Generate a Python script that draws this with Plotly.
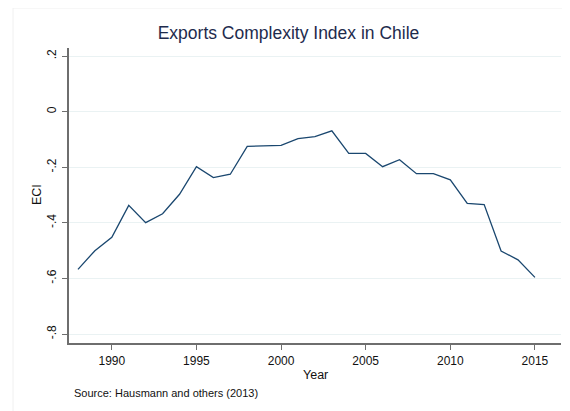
import plotly.graph_objects as go

years = list(range(1988, 2016))
eci = [-0.567, -0.500, -0.452, -0.337, -0.399, -0.367, -0.297, -0.198,
       -0.237, -0.225, -0.125, -0.124, -0.121, -0.097, -0.090, -0.069,
       -0.150, -0.150, -0.198, -0.173, -0.223, -0.223, -0.245, -0.330,
       -0.334, -0.501, -0.533, -0.596]
x_ticks = [1990, 1995, 2000, 2005, 2010, 2015]
y_ticks = [0.2, 0.0, -0.2, -0.4, -0.6, -0.8]
y_tick_labels = [".2", "0", "-.2", "-.4", "-.6", "-.8"]

W, H = 562, 403
L, R, T, B = 61, 9, 40, 68
PW, PH = W - L - R, H - T - B

fig = go.Figure()
fig.add_trace(go.Scatter(x=years, y=eci, mode="lines",
                         line=dict(color="#1a476f", width=1.3),
                         showlegend=False, hoverinfo="x+y"))

axis_color = "#6e6e6e"
fig.update_layout(
    width=W, height=H,
    margin=dict(l=L, r=R, t=T, b=B),
    paper_bgcolor="white", plot_bgcolor="white",
    font=dict(family="Liberation Sans, Arial, sans-serif", size=12, color="#111111"),
    title=dict(text="Exports Complexity Index in Chile", x=280.5 / W, xanchor="center",
               y=1 - 25 / H, yanchor="middle",
               font=dict(size=17.5, color="#1e2b4d")),
    xaxis=dict(range=[1987.47, 2016.54], tickvals=x_ticks, ticks="outside",
               ticklen=5, tickcolor=axis_color, tickwidth=1.2,
               ticklabelstandoff=1,
               showline=True, linecolor=axis_color, linewidth=1.6,
               showgrid=False, zeroline=False,
               tickfont=dict(size=12, color="#111111")),
    yaxis=dict(range=[-0.832, 0.229], tickvals=y_ticks, ticktext=y_tick_labels,
               ticks="outside", ticklen=5, tickcolor=axis_color, tickwidth=1.2,
               tickangle=-90, ticklabelstandoff=1,
               showline=True, linecolor=axis_color, linewidth=1.6,
               showgrid=True, gridcolor="#eaf2f3", gridwidth=1,
               zeroline=False,
               tickfont=dict(size=12, color="#111111")),
)

fig.add_annotation(text="ECI", xref="paper", yref="paper",
                   x=(29 - L) / PW, y=(T + PH - (195 - 8)) / PH,
                   xanchor="center", yanchor="middle", textangle=-90,
                   showarrow=False, font=dict(size=12.5, color="#111111"))
fig.add_annotation(text="Year", xref="paper", yref="paper",
                   x=(307 - L) / PW, y=-(367 - (T + PH)) / PH,
                   xanchor="center", yanchor="middle",
                   showarrow=False, font=dict(size=12.5, color="#111111"))
fig.add_annotation(text="Source: Hausmann and others (2013)",
                   xref="paper", yref="paper",
                   x=(64 - L) / PW, y=-(385 - (T + PH)) / PH,
                   xanchor="left", yanchor="middle", showarrow=False,
                   font=dict(size=11, color="#111111"))

# faint outer graph-region border
fig.add_shape(type="line", xref="paper", yref="paper",
              x0=(5 - L) / PW, x1=(W + 5 - L) / PW,
              y0=(T + PH) / PH, y1=(T + PH) / PH,
              line=dict(color="#f0f0f0", width=1))
fig.add_shape(type="line", xref="paper", yref="paper",
              x0=(5 - L) / PW, x1=(5 - L) / PW,
              y0=(T + PH) / PH, y1=-(B + 5) / PH,
              line=dict(color="#f0f0f0", width=1))

fig.write_html("out.html")
